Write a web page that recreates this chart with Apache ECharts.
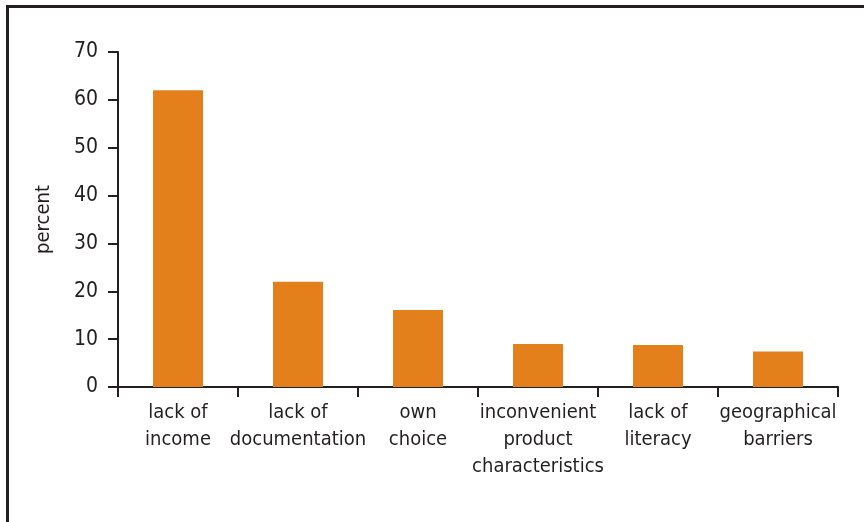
<!DOCTYPE html>
<html>
<head>
<meta charset="utf-8">
<script src="https://cdn.jsdelivr.net/npm/echarts@6/dist/echarts.min.js"></script>
<style>
  html, body { margin: 0; padding: 0; background: #fff; }
  #chart { width: 864px; height: 522px; }
</style>
</head>
<body>
<div id="chart"></div>
<script>
const categories = ['lack of\nincome', 'lack of\ndocumentation', 'own\nchoice', 'inconvenient\nproduct\ncharacteristics', 'lack of\nliteracy', 'geographical\nbarriers']
const percentValues = [62, 22, 16.1, 9, 8.8, 7.4]
const yTicks = { min: 0, max: 70, interval: 10 }

const font = '"Liberation Sans Narrow", "DejaVu Sans Condensed", sans-serif'
const ink = '#231f20'

const chart = echarts.init(document.getElementById('chart'))

const option = {
  animation: false,
  textStyle: { fontFamily: font },
  grid: {
    left: 118,
    right: 26,
    top: 52,
    bottom: 135,
    containLabel: false
  },
  // frame lines on the left and top
  graphic: [
    { type: 'line', shape: { x1: 7.5, y1: 6, x2: 7.5, y2: 522 }, style: { stroke: ink, lineWidth: 3 } },
    { type: 'line', shape: { x1: 6, y1: 6.5, x2: 864, y2: 6.5 }, style: { stroke: ink, lineWidth: 3 } }
  ],
  xAxis: {
    type: 'category',
    data: categories,
    axisLine: { lineStyle: { color: ink, width: 2 } },
    axisTick: { show: true, length: 10, lineStyle: { color: ink, width: 2 } },
    axisLabel: {
      color: ink,
      fontSize: 20,
      fontFamily: font,
      lineHeight: 27,
      margin: 12,
      interval: 0
    }
  },
  yAxis: {
    type: 'value',
    min: yTicks.min,
    max: yTicks.max,
    interval: yTicks.interval,
    name: 'percent',
    nameLocation: 'middle',
    nameRotate: 90,
    nameGap: 64,
    nameTextStyle: { color: ink, fontSize: 20, fontFamily: font },
    axisLine: { show: true, lineStyle: { color: ink, width: 2 } },
    axisTick: { show: true, length: 10, lineStyle: { color: ink, width: 2 } },
    axisLabel: { color: ink, fontSize: 21, fontFamily: font, margin: 20 },
    splitLine: { show: false }
  },
  series: [
    {
      type: 'bar',
      data: percentValues,
      barWidth: 50,
      itemStyle: { color: '#e3801c' }
    }
  ]
}

chart.setOption(option)
</script>
</body>
</html>
